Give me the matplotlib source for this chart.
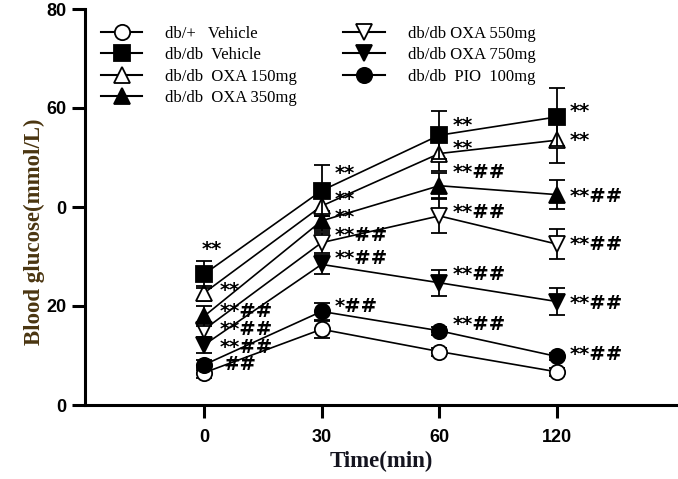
import matplotlib
matplotlib.use("Agg")
import matplotlib.pyplot as plt
from matplotlib.lines import Line2D

# ---------------- data ----------------
time_labels = ["0", "30", "60", "120"]
series_names = ["db/+   Vehicle", "db/db  Vehicle", "db/db  OXA 150mg", "db/db  OXA 350mg",
                "db/db OXA 550mg", "db/db OXA 750mg", "db/db  PIO  100mg"]
db_plus_vehicle = [6.5, 15.3, 10.8, 6.7]
db_db_vehicle = [26.4, 43.3, 54.5, 58.2]
oxa_150 = [22.6, 40.2, 50.8, 53.5]
oxa_350 = [17.9, 37.2, 44.3, 42.5]
oxa_550 = [15.2, 32.8, 38.2, 32.5]
oxa_750 = [12.1, 28.4, 24.7, 20.9]
pio_100 = [8.1, 18.9, 15.0, 9.8]

err_db_plus = [1.0, 1.7, 0.8, 0.8]
err_db_db = [2.7, 5.2, 4.8, 5.8]
err_150 = [1.5, 2.0, 3.5, 4.7]
err_350 = [2.0, 2.0, 2.5, 3.0]
err_550 = [1.5, 2.0, 3.5, 3.0]
err_750 = [1.5, 2.0, 2.6, 2.7]
err_pio = [1.0, 1.8, 0.8, 0.8]

sig_db_plus = ["", "", "", ""]
sig_db_db = ["**", "**", "**", "**"]
sig_150 = ["**", "**", "**", "**"]
sig_350 = ["**##", "**", "**##", "**##"]
sig_550 = ["**##", "**##", "**##", "**##"]
sig_750 = ["**##", "**##", "**##", "**##"]
sig_pio = ["##", "*##", "**##", "**##"]

y_ticks = [0, 20, 40, 60, 80]
y_tick_labels = ["0", "20", "0", "60", "80"]

values = [db_plus_vehicle, db_db_vehicle, oxa_150, oxa_350, oxa_550, oxa_750, pio_100]
errors = [err_db_plus, err_db_db, err_150, err_350, err_550, err_750, err_pio]
sigs = [sig_db_plus, sig_db_db, sig_150, sig_350, sig_550, sig_750, sig_pio]

# ---------------- styles ----------------
markers = ["o", "s", "^", "^", "v", "v", "o"]
faces = ["white", "black", "white", "black", "white", "black", "black"]
zorders = [2, 9, 8, 7, 6, 5, 4]
# label offsets in pixels (dx, dy) per point
sig_dx = [[13, 13, 13, 13], [-2, 13, 13, 13], [16, 13, 13, 13], [16, 13, 13, 13],
          [16, 13, 13, 13], [16, 13, 13, 13], [20, 13, 13, 13]]
sig_dy = [[0, 0, 0, 0], [25, 17, 10, 5], [3, 7, 5, 0], [5, 3, 13, -2],
          [0, 7, 3, 0], [-2, 6, 8, -2], [0, 5, 6, 2]]

fig = plt.figure(figsize=(6.78, 4.79), dpi=100)
ax = fig.add_axes([85 / 678, 1 - 405 / 479, (677 - 85) / 678, (405 - 9) / 479])

x = list(range(len(time_labels)))
handles = []
for i, (vals, errs) in enumerate(zip(values, errors)):
    ax.errorbar(x, vals, yerr=errs, color="black", lw=1.2, elinewidth=1.3,
                capsize=6, capthick=1.3, marker=markers[i], markersize=11,
                markerfacecolor=faces[i], markeredgecolor="black", markeredgewidth=1.3,
                zorder=zorders[i])
    for j, s in enumerate(sigs[i]):
        if s:
            ax.annotate(s, (x[j], vals[j]), xytext=(sig_dx[i][j], sig_dy[i][j]),
                        textcoords="offset pixels", ha="left", va="center",
                        fontsize=14, fontweight="bold", family="DejaVu Sans",
                        zorder=20)
    handles.append(Line2D([], [], color="black", lw=1.5, marker=markers[i], markersize=11,
                          markerfacecolor=faces[i], markeredgecolor="black",
                          markeredgewidth=1.3))

ax.set_xlim(-1.01, 4.02)
ax.set_ylim(0, 80)
ax.set_xticks(x)
ax.set_xticklabels(time_labels, fontsize=13, fontweight="bold", family="Liberation Sans")
ax.set_yticks(y_ticks)
ax.set_yticklabels(y_tick_labels, fontsize=13, fontweight="bold", family="Liberation Sans")
for sp in ["top", "right"]:
    ax.spines[sp].set_visible(False)
for sp in ["left", "bottom"]:
    ax.spines[sp].set_linewidth(2.2)
ax.tick_params(axis="both", width=2.2, length=9.5, pad=4)
ax.tick_params(axis="x", pad=8)

ax.set_xlabel("Time(min)", fontsize=16.5, fontweight="bold", family="Liberation Serif",
              color="#14141f", labelpad=3)
ax.set_ylabel("Blood glucose(mmol/L)", fontsize=16.5, fontweight="bold",
              family="Liberation Serif", color="#4a3510")
ax.yaxis.set_label_coords(-0.068, 0.437)

leg = ax.legend(handles, series_names, ncol=2, loc="upper left",
                bbox_to_anchor=(4 / 592, 1.0 - 5 / 396), frameon=False,
                prop={"family": "Liberation Serif", "size": 12},
                handlelength=2.5, handletextpad=1.35, columnspacing=2.8,
                labelspacing=0.33, borderaxespad=0.3)

fig.savefig("out.png", dpi=100)
